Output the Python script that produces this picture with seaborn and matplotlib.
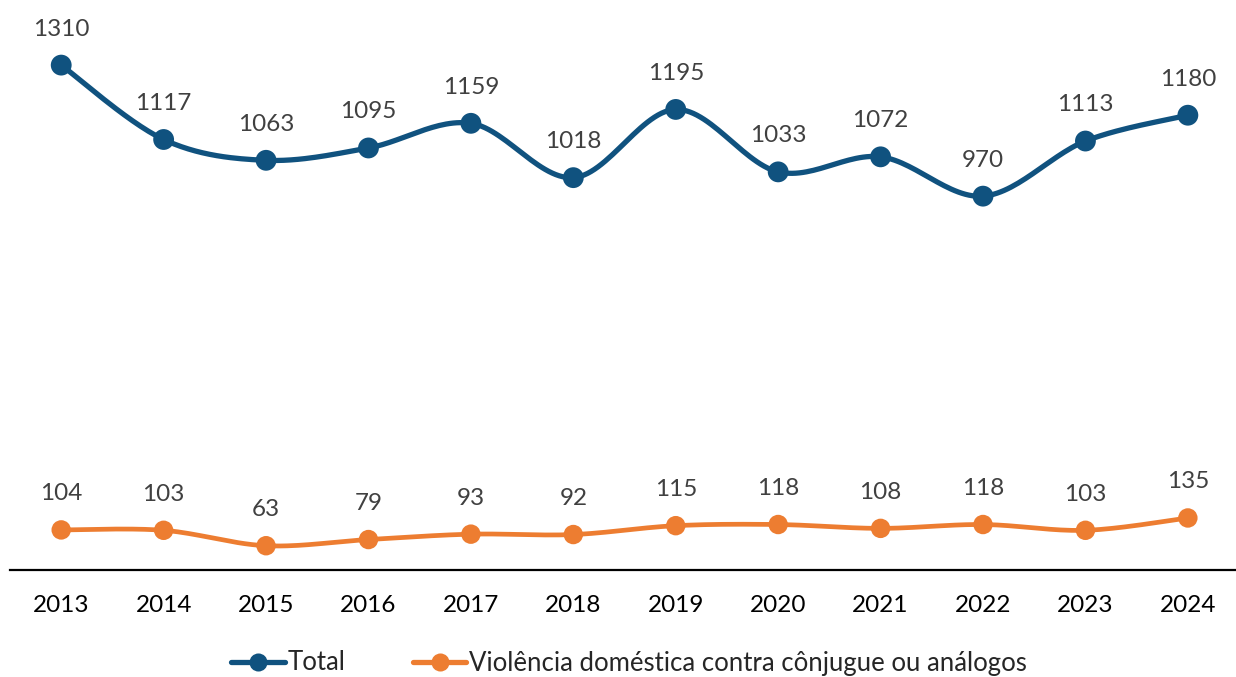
import numpy as np
import pandas as pd
import matplotlib
matplotlib.use("Agg")
import matplotlib.pyplot as plt
import seaborn as sns
from matplotlib.lines import Line2D

years = ["2013", "2014", "2015", "2016", "2017", "2018", "2019", "2020", "2021", "2022", "2023", "2024"]
total = [1310, 1117, 1063, 1095, 1159, 1018, 1195, 1033, 1072, 970, 1113, 1180]
violencia = [104, 103, 63, 79, 93, 92, 115, 118, 108, 118, 103, 135]
series_names = ["Total", "Violência doméstica contra cônjugue ou análogos"]
colors = ["#10527F", "#ED7D31"]

sns.set_theme(style="white")
plt.rcParams["font.family"] = ["Lato", "DejaVu Sans"]

fig = plt.figure(figsize=(12.36, 6.77), dpi=100)
ax = fig.add_axes([10 / 1236, 1 - 570 / 677, 1226 / 1236, 560 / 677])

x = np.arange(len(years))


def smooth(xs, ys, n=30):
    # Catmull-Rom style smoothing similar to spreadsheet "smoothed line"
    xs = np.asarray(xs, float)
    ys = np.asarray(ys, float)
    px = np.concatenate([[xs[0]], xs, [xs[-1]]])
    py = np.concatenate([[ys[0]], ys, [ys[-1]]])
    outx, outy = [], []
    t = np.linspace(0, 1, n)
    for i in range(1, len(px) - 2):
        p0x, p1x, p2x, p3x = px[i - 1], px[i], px[i + 1], px[i + 2]
        p0y, p1y, p2y, p3y = py[i - 1], py[i], py[i + 1], py[i + 2]
        c1x = p1x + (p2x - p0x) / 6
        c1y = p1y + (p2y - p0y) / 6
        c2x = p2x - (p3x - p1x) / 6
        c2y = p2y - (p3y - p1y) / 6
        bx = (1 - t) ** 3 * p1x + 3 * (1 - t) ** 2 * t * c1x + 3 * (1 - t) * t ** 2 * c2x + t ** 3 * p2x
        by = (1 - t) ** 3 * p1y + 3 * (1 - t) ** 2 * t * c1y + 3 * (1 - t) * t ** 2 * c2y + t ** 3 * p2y
        outx.append(bx)
        outy.append(by)
    return np.concatenate(outx), np.concatenate(outy)


specs = [(total, colors[0], 3.8, 15), (violencia, colors[1], 3.4, 14)]
for (vals, col, lw, ms), name in zip(specs, series_names):
    sx, sy = smooth(x, vals)
    ax.plot(sx, sy, color=col, lw=lw, solid_capstyle="round", zorder=2)
    df = pd.DataFrame({"x": x, "y": vals})
    sns.scatterplot(data=df, x="x", y="y", ax=ax, color=col, s=ms ** 2, edgecolor="none", zorder=3, legend=False)
    for xi, v in zip(x, vals):
        ax.annotate(str(v), (xi, v), xytext=(0, 26), textcoords="offset points",
                    ha="center", va="center", fontsize=17.5, color="#404040")

ax.set_xlim(-0.5, 11.47)
ax.set_ylim(0, 1453)
ax.set_xticks(x)
ax.set_xticklabels(years, fontsize=17.5, color="#000000")
ax.tick_params(axis="x", length=0, pad=18)
ax.set_yticks([])
ax.set_xlabel("")
ax.set_ylabel("")
for s in ["top", "left", "right"]:
    ax.spines[s].set_visible(False)
ax.spines["bottom"].set_color("#000000")
ax.spines["bottom"].set_linewidth(1.6)

handles = [Line2D([0], [0], color=c, lw=3.8, marker="o", markersize=13, markeredgecolor="none") for c in colors]
fig.legend(handles, series_names, loc="center", bbox_to_anchor=(0.509, 1 - 663 / 677), ncol=2,
           frameon=False, fontsize=18.5, handlelength=2.1, handletextpad=0.1, columnspacing=2.6)

fig.savefig("out.png", dpi=100)
